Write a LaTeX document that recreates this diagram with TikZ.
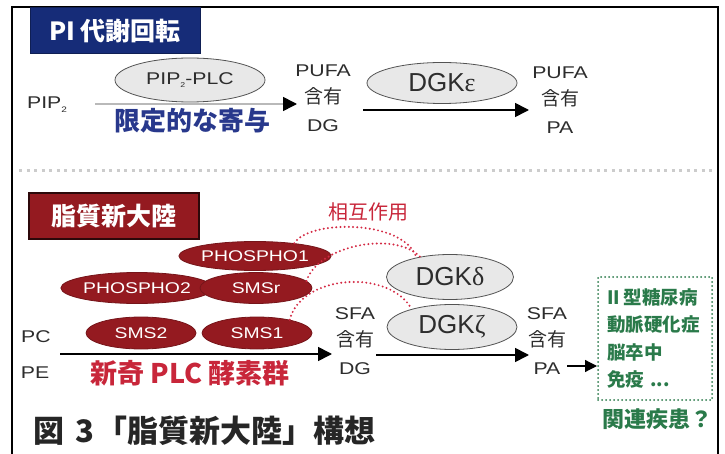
\documentclass[tikz,border=0pt]{standalone}
\usepackage{fontspec}
\setmainfont{Liberation Sans}
\newfontfamily\lat[FakeStretch=1.25]{Liberation Sans}
\newfontfamily\jp{Noto Sans CJK JP}
\newfontfamily\grk{Liberation Serif}
\usetikzlibrary{shapes.geometric,arrows.meta}
\definecolor{navy}{RGB}{22,44,120}
\definecolor{bluetxt}{RGB}{40,56,140}
\definecolor{dred}{RGB}{148,26,32}
\definecolor{redtxt}{RGB}{200,38,58}
\definecolor{reddot}{RGB}{212,42,68}
\definecolor{dgreen}{RGB}{42,122,74}
\definecolor{lab}{RGB}{45,45,45}
\newcommand\hanyu{{\jp\fontsize{19}{27.5}\selectfont 含有}}
\tikzset{
  titlebox/.style={minimum width=170, minimum height=46, inner sep=0, text=white, font=\jp\bfseries\fontsize{25}{25}\selectfont},
  grayell/.style={ellipse, fill=gray!18, draw=gray!65!black, line width=0.8, inner sep=0, text=lab},
  redell/.style={ellipse, fill=dred, draw=dred!80!black, line width=0.8, inner sep=0, text=white, minimum width=112, minimum height=31, font=\lat\fontsize{15.5}{15.5}\selectfont},
  lbl/.style={align=center, text=lab, inner sep=0, font=\lat\fontsize{17}{27.5}\selectfont},
  arr/.style={line width=1.6, -{Triangle[length=14,width=14,color=black]}},
  dotred/.style={reddot, line width=2.2, line cap=round, dash pattern=on 0pt off 4.2pt},
}
\begin{document}
\begin{tikzpicture}[x=1pt,y=-1pt]
\useasboundingbox (0,0) rectangle (725,454);
% frame
\draw[line width=2] (12,454) -- (12,7) -- (718,7) -- (718,454);
\draw[gray!40, line width=3, dash pattern=on 3pt off 4.5pt] (19,171) -- (716,171);

% ---------- PI section ----------
\node[titlebox, fill=navy, draw=navy!70!black, line width=1] (t1) at (115,31) {PI 代謝回転};
\node[lbl] (pip) at (47,105) {PIP\raisebox{-4pt}{\fontsize{8}{8}\selectfont 2}};
\node[grayell, minimum width=150, minimum height=44, font=\lat\fontsize{17}{17}\selectfont] (plc) at (190,80) {PIP\raisebox{-3pt}{\fontsize{7}{7}\selectfont 2}-PLC};
\node[text=bluetxt, inner sep=0, font=\jp\bfseries\fontsize{26}{26}\selectfont] (lim) at (192,121) {限定的な寄与};
\node[lbl] (dg1) at (323,98) {PUFA\\\hanyu\\DG};
\node[grayell, minimum width=150, minimum height=41, font=\fontsize{26}{26}\selectfont] (dke) at (442,83) {DGK{\grk ε}};
\node[lbl] (pa1) at (560,100) {PUFA\\\hanyu\\PA};
\coordinate (a1s) at (95,104);
\coordinate (a1e) at (297,104);
\draw[arr, gray!55] (a1s) -- (a1e);
\coordinate (a2s) at (363,110);
\coordinate (a2e) at (529,110);
\draw[arr, black] (a2s) -- (a2e);

% ---------- new continent section ----------
\node[titlebox, fill=dred, draw=black!70!dred, line width=1.2] (t2) at (114,216) {脂質新大陸};
\node[redell, minimum width=124, minimum height=29] (p1) at (255,256) {PHOSPHO1};
\node[redell, minimum width=126] (p2) at (137,288) {PHOSPHO2};
\node[redell] (smsr) at (256,288) {SMSr};
\node[redell, minimum width=110, minimum height=32] (sms2) at (141,333) {SMS2};
\node[redell, minimum width=110, minimum height=32] (sms1) at (257,333) {SMS1};
\node[lbl] (pc) at (36,337) {PC};
\node[lbl] (pe) at (35,373) {PE};
\coordinate (a3s) at (60,354);
\coordinate (a3e) at (332,354);
\draw[arr, black] (a3s) -- (a3e);
\node[text=redtxt, inner sep=0, font=\jp\bfseries\fontsize{27}{27}\selectfont] (plcg) at (190,373) {新奇 PLC 酵素群};
\node[lbl] (dg2) at (355,341) {SFA\\\hanyu\\DG};
\node[grayell, minimum width=127, minimum height=45, font=\fontsize{26}{26}\selectfont] (dd) at (450,277) {DGK{\grk δ}};
\node[grayell, minimum width=130, minimum height=45, font=\fontsize{26}{26}\selectfont] (dz) at (452,327) {DGK{\grk ζ}};
\coordinate (a4s) at (376,355);
\coordinate (a4e) at (529,355);
\draw[arr, black] (a4s) -- (a4e);
\node[lbl] (pa2) at (547,341) {SFA\\\hanyu\\PA};
\node[text=redtxt, inner sep=0, font=\jp\fontsize{20}{20}\selectfont] (inter) at (368,212) {相互作用};
\draw[dotred] (p1.18) .. controls +(15,-24) and +(-12,-38) .. (dd.150);
\draw[dotred] (smsr.8) .. controls +(12,-36) and +(-25,-26) .. (dd.146);
\draw[dotred] (sms1.22) .. controls +(12,-46) and +(-22,-40) .. (dz.156);

% diseases
\node[draw=dgreen, line width=2, line cap=round, dash pattern=on 0pt off 4pt,
      minimum width=114, minimum height=123, text width=96, align=left, inner sep=0,
      text=dgreen, font=\jp\bfseries\fontsize{18.5}{27.5}\selectfont] (dis) at (655,338.5)
      {II\hspace{4pt}型糖尿病\\動脈硬化症\\脳卒中\\免疫 ...};
\coordinate (a5s) at (567,366);
\draw[line width=1.2, -{Triangle[length=12,width=12]}] (a5s) -- (dis.west |- a5s);
\node[text=dgreen, inner sep=0, font=\jp\bfseries\fontsize{22}{22}\selectfont] (rel) at (657,419) {関連疾患？};

% caption
\node[inner sep=0, anchor=west, text=black!85, font=\jp\bfseries\fontsize{31}{31}\selectfont] (cap) at (33,431) {図\hspace{11pt}3\hspace{2pt}「脂質新大陸」構想};
\end{tikzpicture}
\end{document}
